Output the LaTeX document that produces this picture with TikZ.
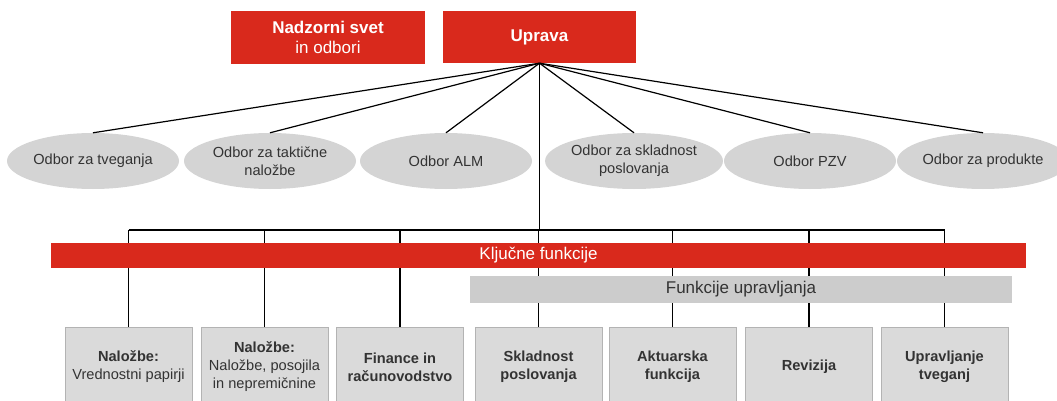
\documentclass[tikz,border=0pt]{standalone}
\usepackage{fontspec}
\setmainfont{Liberation Sans}
\usetikzlibrary{shapes.geometric}
\definecolor{redc}{HTML}{D9291C}
\definecolor{ellc}{HTML}{D4D4D4}
\definecolor{boxc}{HTML}{DADADA}
\definecolor{boxb}{HTML}{B3B3B3}
\definecolor{barg}{HTML}{CCCCCC}
\definecolor{txt}{HTML}{333333}
\begin{document}
\begin{tikzpicture}[x=1pt,y=-1pt,
  topbox/.style={fill=redc, draw=none, minimum width=194pt, minimum height=53pt, inner sep=0pt, text=white, align=center, font=\fontsize{17}{20}\selectfont},
  comm/.style={ellipse, fill=ellc, draw=none, minimum width=172pt, minimum height=56pt, inner sep=0pt, text=txt, align=center, font=\fontsize{14.6}{18}\selectfont},
  unitbox/.style={fill=boxc, draw=boxb, line width=1pt, minimum width=127pt, minimum height=80pt, inner sep=0pt, text=txt, align=center, font=\fontsize{14.6}{18}\selectfont\bfseries},
  conn/.style={draw=black, line width=1.2pt},
  redbar/.style={fill=redc, draw=none, minimum width=975pt, minimum height=25pt, inner sep=0pt, text=white, font=\fontsize{17}{20}\selectfont},
  graybar/.style={fill=barg, draw=none, minimum width=542pt, minimum height=27pt, inner sep=0pt, text=txt, font=\fontsize{17}{20}\selectfont}
]
\useasboundingbox (0,0) rectangle (1057,401);
\clip (0,0) rectangle (1057,401);

% top boxes
\node[topbox] (nadzor) at (328,37.5) {\textbf{Nadzorni svet}\\in odbori};
\node[topbox, minimum width=193pt, minimum height=52pt] (uprava) at (539.5,37) {\textbf{Uprava}};

% committees
\node[comm] (e1) at (93,161) {Odbor za tveganja};
\node[comm] (e2) at (270,161) {Odbor za taktične\\naložbe};
\node[comm] (e3) at (446,161) {Odbor ALM};
\node[comm] (e4) at (634,161) {Odbor za skladnost\\poslovanja};
\node[comm] (e5) at (810,161) {Odbor PZV};
\node[comm] (e6) at (983,161) {Odbor za produkte};

% bottom units
\node[unitbox] (b1) at (128.5,367) {Naložbe:\\{\mdseries Vrednostni papirji}};
\node[unitbox] (b2) at (264.5,367) {Naložbe:\\{\mdseries Naložbe, posojila}\\{\mdseries in nepremičnine}};
\node[unitbox] (b3) at (400,367) {Finance in\\računovodstvo};
\node[unitbox] (b4) at (538.5,367) {Skladnost\\poslovanja};
\node[unitbox] (b5) at (672.5,367) {Aktuarska\\funkcija};
\node[unitbox] (b6) at (809,367) {Revizija};
\node[unitbox] (b7) at (944.5,367) {Upravljanje\\tveganj};

% connectors from Uprava to committees
\foreach \e in {e1,e2,e3,e4,e5,e6}
  \draw[conn] (uprava.south) -- (\e.north);

% trunk and bus
\coordinate (bus) at (539,230);
\draw[conn] (uprava.south) -- (uprava.south |- bus);
\draw[conn] (b1.north |- bus) -- (b7.north |- bus);
\foreach \b in {b1,b2,b3,b4,b5,b6,b7}
  \draw[conn] (\b.north |- bus) -- (\b.north);

% bars on top of the lines
\node[redbar] (kljucne) at (538.5,255.5) {Ključne funkcije};
\node[graybar] (upravljanja) at (741,289.5) {Funkcije upravljanja};
\end{tikzpicture}
\end{document}
